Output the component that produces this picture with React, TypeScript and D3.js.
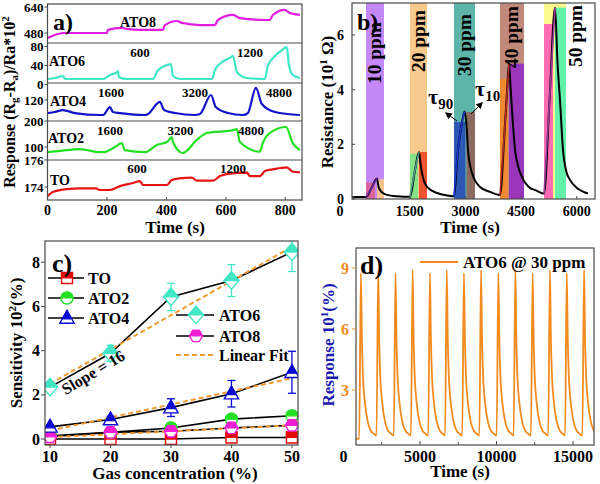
import React from "react";
import * as d3 from "d3";

const FONT = "'Liberation Serif', 'Times New Roman', Times, serif";

/* ---------------- (a) data ---------------- */
const aTimeTicks = [0, 200, 400, 600, 800];
const ato8Time = [0, 25, 52, 200, 203, 250, 267, 311, 388, 395, 435, 452, 513, 563, 573, 624, 647, 738, 748, 758, 798, 815, 849];
const ato8Resp = [449, 468, 480, 480, 499, 511, 505, 499, 499, 529, 554, 542, 529, 529, 560, 591, 572, 560, 560, 591, 622, 603, 591];
const ato8Ticks = [480, 640];

const ato6Time = [2, 25, 52, 59, 187, 210, 234, 237, 240, 267, 355, 371, 402, 415, 422, 445, 553, 563, 587, 613, 624, 637, 671, 731, 741, 765, 788, 805, 812, 825, 849];
const ato6Resp = [11.6, 13.7, 17.9, 11.6, 11.6, 20, 26, 28, 16, 11.6, 11.6, 30, 41, 43, 18, 11.6, 11.6, 30, 47, 56, 60, 26, 13.7, 11.6, 39, 60, 72, 79, 41, 20, 13.7];
const ato6Ticks = [0, 40, 80];
const ato6TopLabels = [600, 1200];

const ato4Time = [0, 25, 52, 92, 176, 187, 210, 220, 244, 328, 338, 378, 392, 429, 496, 513, 550, 566, 607, 657, 674, 701, 721, 765, 849];
const ato4Resp = [33, 40, 53, 33, 20, 20, 73, 40, 33, 20, 27, 107, 53, 33, 20, 27, 153, 73, 33, 20, 33, 200, 93, 40, 20];
const ato4Ticks = [120];
const ato4TopLabels = [1600, 3200, 4800];

const ato2Time = [0, 42, 109, 176, 187, 227, 250, 260, 328, 368, 402, 418, 422, 455, 502, 536, 624, 637, 647, 714, 724, 748, 802, 825, 849];
const ato2Resp = [80, 85, 92, 80, 80, 100, 115, 88, 80, 108, 119, 138, 119, 77, 127, 154, 165, 169, 119, 82, 115, 154, 177, 115, 88];
const ato2Ticks = [100, 200];
const ato2TopLabels = [1600, 3200, 4800];

const toTime = [0, 18, 66, 109, 163, 176, 210, 244, 287, 311, 321, 402, 418, 445, 486, 502, 556, 580, 603, 671, 681, 714, 731, 758, 805, 825, 849];
const toResp = [173.33, 173.63, 173.85, 173.9, 173.9, 173.78, 173.78, 174.07, 174.3, 174.44, 174.15, 174.15, 174.52, 174.64, 174.69, 174.47, 174.47, 174.81, 174.96, 175.06, 174.81, 174.81, 175.18, 175.31, 175.46, 175.13, 175.09];
const toTicks = [174, 176];
const toTopLabels = [600, 1200];

/* ---------------- (b) data ---------------- */
const bTimeTicks = [0, 1500, 3000, 4500, 6000];
const bResTicks = [0, 2, 4, 6];
const bandLabels = ["10 ppm", "20 ppm", "30 ppm", "40 ppm", "50 ppm"];
const bandStart = [323, 1508, 2693, 3932, 5117];
const bandEnd = [808, 1966, 3259, 4578, 5709];
const peakTime = [619, 1750, 2980, 4174, 5413];
const tau90End = [566, 1724, 3000, 4147, 5359];
const tau90Top = [0.6, 1.65, 2.82, 4.39, 6.4];
const tau10Start = [619, 1750, 3030, 4174, 5413];
const tau10Top = [0.72, 1.72, 3.18, 4.95, 7.0];
const resTime = [-50, 323, 470, 619, 660, 700, 800, 889, 1158, 1508, 1643, 1750, 1790, 1831, 1966, 2235, 2500, 2693, 2800, 2908, 2980, 3030, 3070, 3178, 3393, 3662, 3932, 4060, 4120, 4174, 4220, 4255, 4336, 4420, 4524, 4700, 4928, 5117, 5265, 5413, 5480, 5548, 5628, 5720, 5817, 6000, 6167, 6300];
const resVal = [0.07, 0.07, 0.4, 0.75, 0.45, 0.33, 0.2, 0.15, 0.1, 0.08, 1.06, 1.72, 1.3, 0.95, 0.44, 0.22, 0.13, 0.1, 1.8, 2.8, 3.2, 2.7, 1.8, 0.95, 0.44, 0.26, 0.15, 2.6, 3.9, 4.95, 4.0, 3.25, 1.8, 1.2, 0.8, 0.45, 0.3, 0.2, 3.6, 7.0, 5.0, 3.6, 1.8, 1.0, 0.7, 0.4, 0.27, 0.2];

/* ---------------- (c) data ---------------- */
const concentration = [10, 20, 30, 40, 50];
const sensTO = [0.0, 0.0, 0.0, 0.07, 0.07];
const sensATO2 = [0.15, 0.3, 0.5, 0.9, 1.05];
const sensATO4 = [0.55, 0.88, 1.42, 2.05, 3.02];
const sensATO6 = [2.35, 3.88, 6.43, 7.17, 8.46];
const sensATO8 = [0.1, 0.3, 0.35, 0.5, 0.62];
const errATO4 = [0.08, 0.15, 0.4, 0.6, 0.95];
const errATO6 = [0.1, 0.36, 0.62, 0.72, 0.88];
const fitConc = [10, 50];
const fitATO6 = [2.5, 8.7];
const fitATO4 = [0.38, 2.75];
const fitATO8 = [0.08, 0.62];
const cXTicks = [10, 20, 30, 40, 50];
const cYTicks = [0, 2, 4, 6, 8];

/* ---------------- (d) data ---------------- */
const dXTicks = [0, 5000, 10000, 15000];
const dYTicks = [3, 6, 9];
const dStart = [820, 0.6];
const dPeakTimes = [1140, 2270, 3400, 4520, 5650, 6750, 7870, 8990, 10120, 11230, 12360, 13490, 14590, 15720];
const dPeakValues = [8.75, 8.9, 8.75, 8.9, 8.75, 8.9, 8.75, 8.9, 8.75, 8.9, 8.75, 8.9, 8.75, 8.9];
const dRiseLead = 110;
const dDecayOffsets = [65, 130, 260, 460, 650, 850, 980];
const dDecayValues = [5.5, 3.8, 2.4, 1.4, 1.0, 0.85, 0.78];

const FRAME = "#4a4a4a";

function rotText(x: number, y: number, size: number, children: React.ReactNode, fill = "#000", extra: any = {}) {
  return (
    <text transform={`translate(${x},${y}) rotate(-90)`} textAnchor="middle" fontSize={size} fill={fill} {...extra}>
      {children}
    </text>
  );
}

/* ================= Panel A ================= */
function PanelA() {
  const L = 47.5, R = 302, T = 4, B = 200;
  const x = d3.scaleLinear().domain([0, 856]).range([L, R]);
  const strips = [
    { label: "ATO8", t: ato8Time, v: ato8Resp, color: "#e21de2", top: 4, bottom: 43, domain: [418.5, 658.5], ticks: ato8Ticks, sec: null as number[] | null, secRange: [0, 0], lab: [120, 27], secY: 0 },
    { label: "ATO6", t: ato6Time, v: ato6Resp, color: "#3fe6c8", top: 43, bottom: 83, domain: [3.2, 87.4], ticks: ato6Ticks, sec: ato6TopLabels, secRange: [140, 250], lab: [49, 66], secY: 57 },
    { label: "ATO4", t: ato4Time, v: ato4Resp, color: "#1212c8", top: 83, bottom: 121, domain: [-20, 233], ticks: ato4Ticks, sec: ato4TopLabels, secRange: [111, 279], lab: [50, 106], secY: 97 },
    { label: "ATO2", t: ato2Time, v: ato2Resp, color: "#22e022", top: 121, bottom: 160, domain: [50, 200], ticks: ato2Ticks, sec: ato2TopLabels, secRange: [110, 251], lab: [48, 143], secY: 135 },
    { label: "TO", t: toTime, v: toResp, color: "#e81414", top: 160, bottom: 200, domain: [173.04, 176], ticks: toTicks, sec: toTopLabels, secRange: [137, 233], lab: [50, 185], secY: 173 },
  ];
  return (
    <g>
      <defs>
        <clipPath id="clipA"><rect x={L} y={T} width={R - L} height={B - T} /></clipPath>
      </defs>
      {strips.map((s, k) => {
        const y = d3.scaleLinear().domain(s.domain).range([s.bottom, s.top]);
        const line = d3.line<number>().x((_, i) => x(s.t[i])).y((d) => y(d)).curve(d3.curveMonotoneX);
        const sx = s.sec ? d3.scaleLinear().domain([s.sec[0], s.sec[s.sec.length - 1]]).range(s.secRange) : null;
        return (
          <g key={k}>
            <path d={line(s.v) || ""} fill="none" stroke={s.color} strokeWidth={2.2} clipPath="url(#clipA)" />
            {s.ticks.map((tv) => (
              <g key={tv}>
                <line x1={L - 3} x2={L} y1={y(tv)} y2={y(tv)} stroke={FRAME} />
                <text x={L - 4} y={y(tv)} dy="0.35em" textAnchor="end" fontSize={13}>{tv}</text>
              </g>
            ))}
            <text x={s.lab[0]} y={s.lab[1]} fontSize={14}>{s.label}</text>
            {sx && s.sec!.map((v) => (
              <text key={v} x={sx(v)} y={s.secY} textAnchor="middle" fontSize={13}>{v}</text>
            ))}
            {k > 0 && <line x1={L} x2={R} y1={s.top} y2={s.top} stroke={FRAME} strokeWidth={1} />}
          </g>
        );
      })}
      <rect x={L} y={T} width={R - L} height={B - T} fill="none" stroke={FRAME} strokeWidth={1.2} />
      {aTimeTicks.map((t) => (
        <g key={t}>
          <line x1={x(t)} x2={x(t)} y1={B} y2={B - 3} stroke={FRAME} />
          <text x={x(t)} y={215} textAnchor="middle" fontSize={14}>{t}</text>
        </g>
      ))}
      <text x={175} y={233} textAnchor="middle" fontSize={17}>Time (s)</text>
      <text x={53} y={30} fontSize={24}>a)</text>
      {rotText(15, 102, 16, (
        <>
          Response (R<tspan fontSize={11} dy={3}>g</tspan><tspan dy={-3}>-R</tspan><tspan fontSize={11} dy={3}>a</tspan><tspan dy={-3}>)/Ra*10</tspan><tspan fontSize={11} dy={-6}>2</tspan>
        </>
      ))}
    </g>
  );
}

/* ================= Panel B ================= */
function PanelB() {
  const L = 352, R = 595, T = 3, B = 199;
  const x = d3.scaleLinear().domain([-54, 6490]).range([L, R]);
  const y = d3.scaleLinear().domain([0, 7.17]).range([B, T]);
  const bandColors = ["#c489f6", "#f8c98c", "#5db4a9", "#c0897a", "#fbf88e"];
  const t90Colors = ["#d9679b", "#84e384", "#2d56b6", "#f08a30", "#ff6cb2"];
  const t10Colors = ["#f5c392", "#ef532f", "#8b6b5f", "#9b36ba", "#62f0aa"];
  const riseColors = ["#6b2cb0", "#4f9488", "#1a36cc", "#b02828", "#9a3c9c"];
  const labelY = [53, 41, 45, 37, 36];
  const labelDx = [0, 0, 0, 0, 21];
  const pts = resTime.map((t, i) => [t, resVal[i]] as [number, number]);
  const line = d3.line<[number, number]>().x((d) => x(d[0])).y((d) => y(d[1])).curve(d3.curveMonotoneX);
  return (
    <g>
      <defs>
        <clipPath id="clipB"><rect x={L} y={T} width={R - L} height={B - T} /></clipPath>
        <marker id="arrowB" viewBox="0 0 10 10" refX="8" refY="5" markerWidth="7" markerHeight="7" orient="auto-start-reverse">
          <path d="M0,0 L10,5 L0,10 z" fill="#000" />
        </marker>
      </defs>
      <g clipPath="url(#clipB)">
        {bandStart.map((s, i) => (
          <rect key={"band" + i} x={x(s)} y={T} width={x(bandEnd[i]) - x(s)} height={B - T} fill={bandColors[i]} />
        ))}
        {bandStart.map((s, i) => (
          <g key={"tau" + i}>
            <rect x={x(s)} y={y(tau90Top[i])} width={x(tau90End[i]) - x(s)} height={B - y(tau90Top[i])} fill={t90Colors[i]} />
            <rect x={x(tau10Start[i])} y={y(tau10Top[i])} width={x(bandEnd[i]) - x(tau10Start[i])} height={B - y(tau10Top[i])} fill={t10Colors[i]} />
          </g>
        ))}
        <path d={line(pts) || ""} fill="none" stroke="#000" strokeWidth={2} />
        {bandStart.map((s, i) => {
          const seg = pts.filter((p) => p[0] >= s && p[0] <= peakTime[i]);
          return <path key={"rise" + i} d={line(seg) || ""} fill="none" stroke={riseColors[i]} strokeWidth={1.6} />;
        })}
      </g>
      {bandLabels.map((lab, i) => (
        <g key={lab}>
          {rotText(x((bandStart[i] + bandEnd[i]) / 2) + labelDx[i], labelY[i], 18, lab, "#000", {
            dominantBaseline: "central",
            textLength: 62,
            lengthAdjust: "spacingAndGlyphs",
          })}
        </g>
      ))}
      <text x={428} y={104} fontSize={22}>τ<tspan fontSize={15} dy={5}>90</tspan></text>
      <text x={475} y={96} fontSize={22}>τ<tspan fontSize={15} dy={5}>10</tspan></text>
      <line x1={457} y1={121} x2={446} y2={113} stroke="#000" strokeWidth={1} markerEnd="url(#arrowB)" />
      <line x1={471} y1={114} x2={482} y2={103} stroke="#000" strokeWidth={1} markerEnd="url(#arrowB)" />
      <rect x={L} y={T} width={R - L} height={B - T} fill="none" stroke={FRAME} strokeWidth={1.2} />
      {bResTicks.map((v) => (
        <g key={v}>
          <line x1={L} x2={L + 3} y1={y(v)} y2={y(v)} stroke={FRAME} />
          <text x={344} y={y(v)} dy="0.35em" textAnchor="end" fontSize={14}>{v}</text>
        </g>
      ))}
      {bTimeTicks.map((t) => (
        <g key={t}>
          <line x1={x(t)} x2={x(t)} y1={B} y2={B - 3} stroke={FRAME} />
          <text x={x(t) + (t === 0 ? -14 : 0)} y={216} textAnchor="middle" fontSize={14}>{t}</text>
        </g>
      ))}
      <text x={470} y={233} textAnchor="middle" fontSize={17}>Time (s)</text>
      <text x={357} y={30} fontSize={24}>b)</text>
      {rotText(333, 102, 17, (
        <>Resistance (10<tspan fontSize={11} dy={-6}>1</tspan><tspan dy={6}> Ω)</tspan></>
      ))}
    </g>
  );
}

/* ================= Panel C ================= */
function markerPaths(shape: string, cx: number, cy: number, r: number) {
  switch (shape) {
    case "square":
      return { full: `M${cx - r},${cy - r}H${cx + r}V${cy + r}H${cx - r}Z`, top: `M${cx - r},${cy - r}H${cx + r}V${cy}H${cx - r}Z` };
    case "circle":
      return {
        full: `M${cx - r},${cy}A${r},${r} 0 1,1 ${cx + r},${cy}A${r},${r} 0 1,1 ${cx - r},${cy}Z`,
        top: `M${cx - r},${cy}A${r},${r} 0 0,1 ${cx + r},${cy}Z`,
      };
    case "triangle": {
      const ay = cy - r * 1.15, by = cy + r * 0.8, hw = r * 1.1;
      const f = (cy + r * 0.15 - ay) / (by - ay);
      const my = cy + r * 0.15;
      return { full: `M${cx},${ay}L${cx + hw},${by}L${cx - hw},${by}Z`, top: `M${cx},${ay}L${cx + hw * f},${my}L${cx - hw * f},${my}Z` };
    }
    case "diamond":
      return {
        full: `M${cx},${cy - r * 1.15}L${cx + r},${cy}L${cx},${cy + r * 1.15}L${cx - r},${cy}Z`,
        top: `M${cx},${cy - r * 1.15}L${cx + r},${cy}L${cx - r},${cy}Z`,
      };
    default: {
      const h = r * 0.87;
      return {
        full: `M${cx - r},${cy}L${cx - r / 2},${cy - h}L${cx + r / 2},${cy - h}L${cx + r},${cy}L${cx + r / 2},${cy + h}L${cx - r / 2},${cy + h}Z`,
        top: `M${cx - r},${cy}L${cx - r / 2},${cy - h}L${cx + r / 2},${cy - h}L${cx + r},${cy}Z`,
      };
    }
  }
}

function Marker({ shape, cx, cy, r, color }: { shape: string; cx: number; cy: number; r: number; color: string }) {
  const p = markerPaths(shape, cx, cy, r);
  return (
    <g>
      <path d={p.full} fill="#fff" stroke={color} strokeWidth={1.4} />
      <path d={p.top} fill={color} stroke={color} strokeWidth={1.2} />
    </g>
  );
}

function PanelC() {
  const L = 45, R = 298, T = 241, B = 445;
  const x = d3.scaleLinear().domain([9.17, 51]).range([L, R]);
  const y = d3.scaleLinear().domain([-0.27, 8.96]).range([B, T]);
  const series = [
    { name: "TO", v: sensTO, color: "#e20a0a", shape: "square", r: 5.5, err: null as number[] | null },
    { name: "ATO2", v: sensATO2, color: "#22e022", shape: "circle", r: 6, err: null },
    { name: "ATO8", v: sensATO8, color: "#f21ed2", shape: "hex", r: 6.5, err: null },
    { name: "ATO4", v: sensATO4, color: "#0a0ad2", shape: "triangle", r: 6.5, err: errATO4 },
    { name: "ATO6", v: sensATO6, color: "#42e6c4", shape: "diamond", r: 7.5, err: errATO6 },
  ];
  const fits = [fitATO6, fitATO4, fitATO8];
  const line = d3.line<number>().x((_, i) => x(concentration[i])).y((d) => y(d));
  const fitLine = d3.line<number>().x((_, i) => x(fitConc[i])).y((d) => y(d));
  const legendA = [
    { s: series[0], y: 278 },
    { s: series[1], y: 298 },
    { s: series[3], y: 318 },
  ];
  const legendB = [
    { s: series[4], y: 315 },
    { s: series[2], y: 336 },
  ];
  return (
    <g>
      <defs>
        <clipPath id="clipC"><rect x={L} y={T} width={R - L} height={B - T} /></clipPath>
      </defs>
      <g clipPath="url(#clipC)">
        {series.map((s) => (
          <path key={"l" + s.name} d={line(s.v) || ""} fill="none" stroke="#000" strokeWidth={1.6} />
        ))}
        {fits.map((f, i) => (
          <path key={"f" + i} d={fitLine(f) || ""} fill="none" stroke="#f29a32" strokeWidth={2} strokeDasharray="5,3" />
        ))}
        {series.map((s) =>
          s.err
            ? s.v.map((v, i) => (
                <g key={"e" + s.name + i} stroke={s.color} strokeWidth={1.3}>
                  <line x1={x(concentration[i])} x2={x(concentration[i])} y1={y(v - s.err![i])} y2={y(v + s.err![i])} />
                  <line x1={x(concentration[i]) - 4} x2={x(concentration[i]) + 4} y1={y(v - s.err![i])} y2={y(v - s.err![i])} />
                  <line x1={x(concentration[i]) - 4} x2={x(concentration[i]) + 4} y1={y(v + s.err![i])} y2={y(v + s.err![i])} />
                </g>
              ))
            : null
        )}
        {series.map((s) =>
          s.v.map((v, i) => <Marker key={"m" + s.name + i} shape={s.shape} cx={x(concentration[i])} cy={y(v)} r={s.r} color={s.color} />)
        )}
      </g>
      <rect x={L} y={T} width={R - L} height={B - T} fill="none" stroke={FRAME} strokeWidth={1.2} />
      {legendA.map((it) => (
        <g key={"la" + it.s.name}>
          <line x1={48} x2={84} y1={it.y} y2={it.y} stroke="#000" strokeWidth={1.6} />
          <Marker shape={it.s.shape} cx={67} cy={it.y} r={it.s.r} color={it.s.color} />
          <text x={88} y={it.y} dy="0.35em" fontSize={16}>{it.s.name}</text>
        </g>
      ))}
      {legendB.map((it) => (
        <g key={"lb" + it.s.name}>
          <line x1={176} x2={214} y1={it.y} y2={it.y} stroke="#000" strokeWidth={1.6} />
          <Marker shape={it.s.shape} cx={196} cy={it.y} r={it.s.r} color={it.s.color} />
          <text x={219} y={it.y} dy="0.35em" fontSize={16}>{it.s.name}</text>
        </g>
      ))}
      <line x1={176} x2={214} y1={355} y2={355} stroke="#f29a32" strokeWidth={2} strokeDasharray="5,3" />
      <text x={219} y={355} dy="0.35em" fontSize={16}>Linear Fit</text>
      <text transform="translate(96,377) rotate(-31)" textAnchor="middle" fontSize={16}>Slope = 16</text>
      {cYTicks.map((v) => (
        <g key={v}>
          <line x1={L - 4} x2={L} y1={y(v)} y2={y(v)} stroke={FRAME} />
          <text x={40} y={y(v)} dy="0.35em" textAnchor="end" fontSize={16}>{v}</text>
        </g>
      ))}
      {cXTicks.map((v) => (
        <g key={v}>
          <line x1={x(v)} x2={x(v)} y1={B} y2={B + 3} stroke={FRAME} />
          <text x={x(v)} y={462} textAnchor="middle" fontSize={16}>{v}</text>
        </g>
      ))}
      <text x={175} y={479} textAnchor="middle" fontSize={17}>Gas concentration (%)</text>
      <text x={52} y={272} fontSize={26}>c)</text>
      {rotText(22, 343, 17, (
        <>Sensitivity 10<tspan fontSize={11} dy={-6}>2</tspan><tspan dy={6}>(%)</tspan></>
      ))}
    </g>
  );
}

/* ================= Panel D ================= */
function PanelD() {
  const L = 356, R = 594, T = 248, B = 445;
  const x = d3.scaleLinear().domain([820, 16370]).range([L, R]);
  const y = d3.scaleLinear().domain([0.3, 9.98]).range([B, T]);
  const pts: [number, number][] = [[dStart[0], dStart[1]]];
  dPeakTimes.forEach((tp, i) => {
    const prev = pts[pts.length - 1];
    pts.push([tp - dRiseLead, prev[1]]);
    pts.push([tp, dPeakValues[i]]);
    dDecayOffsets.forEach((o, j) => pts.push([tp + o, dDecayValues[j]]));
  });
  const line = d3.line<[number, number]>().x((d) => x(d[0])).y((d) => y(d[1])).curve(d3.curveMonotoneX);
  const orange = "#f28a1e";
  const minor = [2500, 7500, 12500];
  return (
    <g>
      <defs>
        <clipPath id="clipD"><rect x={L} y={T} width={R - L} height={B - T} /></clipPath>
      </defs>
      <path d={line(pts) || ""} fill="none" stroke={orange} strokeWidth={1.8} clipPath="url(#clipD)" />
      <rect x={L} y={T} width={R - L} height={B - T} fill="none" stroke={FRAME} strokeWidth={1.2} />
      {dYTicks.map((v) => (
        <g key={v}>
          <line x1={L - 4} x2={L} y1={y(v)} y2={y(v)} stroke={orange} />
          <text x={349} y={y(v)} dy="0.35em" textAnchor="end" fontSize={16} fill={orange}>{v}</text>
        </g>
      ))}
      {dXTicks.map((t) => (
        <g key={t}>
          {t >= 820 && <line x1={x(t)} x2={x(t)} y1={B} y2={B - 4} stroke={FRAME} />}
          <text x={x(t)} y={462} textAnchor="middle" fontSize={16}>{t}</text>
        </g>
      ))}
      {minor.map((t) => (
        <line key={t} x1={x(t)} x2={x(t)} y1={B} y2={B - 3} stroke={FRAME} />
      ))}
      <line x1={420} x2={458} y1={262} y2={262} stroke={orange} strokeWidth={2} />
      <text x={463} y={262} dy="0.35em" fontSize={17}>ATO6 @ 30 ppm</text>
      <text x={360} y={274} fontSize={26}>d)</text>
      <text x={460} y={477} textAnchor="middle" fontSize={17}>Time (s)</text>
      {rotText(334, 345, 17, (
        <>Response 10<tspan fontSize={11} dy={-6}>1</tspan><tspan dy={6}>(%)</tspan></>
      ), "#1b1bb0")}
    </g>
  );
}

export default function App() {
  return (
    <svg
      width={600}
      height={484}
      viewBox="0 0 600 484"
      style={{ position: "absolute", left: 0, top: 0, background: "#fff" }}
      fontFamily={FONT}
      fontWeight="bold"
    >
      <rect width={600} height={484} fill="#fff" />
      <PanelA />
      <PanelB />
      <PanelC />
      <PanelD />
    </svg>
  );
}
